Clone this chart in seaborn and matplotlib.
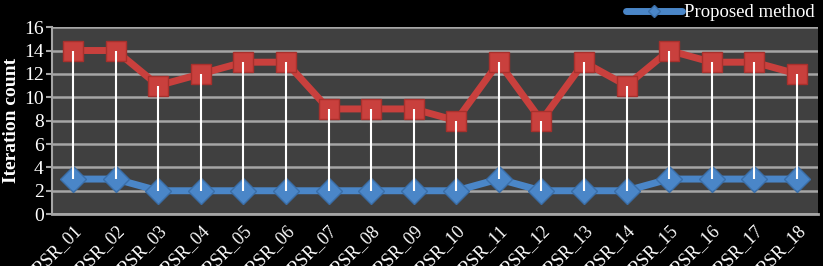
import matplotlib
matplotlib.use("Agg")
import matplotlib.pyplot as plt
import pandas as pd
import numpy as np
import seaborn as sns

sns.set_theme(style="dark")
plt.rcParams['font.family'] = ['Liberation Serif', 'DejaVu Serif']

# %% data
labels = ['RSR_%02d' % i for i in range(1, 19)]
existing = [14, 14, 11, 12, 13, 13, 9, 9, 9, 8, 13, 8, 13, 11, 14, 13, 13, 12]
proposed = [3, 3, 2, 2, 2, 2, 2, 2, 2, 2, 3, 2, 2, 2, 3, 3, 3, 3]

pos = np.arange(len(labels))
df = pd.DataFrame({'pos': pos, 'existing': existing, 'proposed': proposed})

# %% plot
fig = plt.figure(figsize=(8.23, 2.66), dpi=100, facecolor='black')
ax = fig.add_axes([0.063, 0.195, 0.931, 0.703])
ax.set_facecolor('#404040')

sns.lineplot(x='pos', y='existing', data=df, ax=ax, color='#c9403d', lw=5,
             marker='s', markersize=15, markeredgecolor='#a8302c', markeredgewidth=1,
             zorder=3)
sns.lineplot(x='pos', y='proposed', data=df, ax=ax, color='#4a86c8', lw=5,
             marker='D', markersize=13, markeredgecolor='#3a6ea8', markeredgewidth=1,
             zorder=3, label='Proposed method')

# high-low lines
ax.vlines(pos, df['proposed'], df['existing'], color='white', lw=1.5, zorder=4)

ax.set_xlim(-0.5, len(labels) - 0.5)
ax.set_ylim(0, 16)
ax.set_yticks(range(0, 17, 2))
ax.yaxis.grid(True, color='#a6a6a6', lw=1.8)
ax.xaxis.grid(False)
ax.set_xticks(pos)
ax.set_xticklabels(labels, rotation=45, ha='right', rotation_mode='anchor')

ax.tick_params(axis='y', colors='white', labelsize=14, length=4, width=1.5,
               color='#a6a6a6', left=True, pad=2)
ax.tick_params(axis='x', colors='white', labelsize=13, length=0, pad=6)
for t in ax.get_yticklabels() + ax.get_xticklabels():
    t.set_color('white')

for s in ['top', 'right']:
    ax.spines[s].set_visible(False)
ax.spines['left'].set_color('#a6a6a6')
ax.spines['left'].set_linewidth(1.5)
ax.spines['bottom'].set_color('#a6a6a6')
ax.spines['bottom'].set_linewidth(2)

ax.set_xlabel('')
ax.set_ylabel('Iteration count', color='white', fontsize=14, fontweight='bold', labelpad=3)

leg = ax.legend(loc='lower right', bbox_to_anchor=(1.008, 0.98), frameon=False,
                fontsize=13.5, handlelength=3, borderpad=0, handletextpad=0.1,
                markerscale=0.5)
for t in leg.get_texts():
    t.set_color('white')

fig.savefig('out.png', dpi=100, facecolor='black')
